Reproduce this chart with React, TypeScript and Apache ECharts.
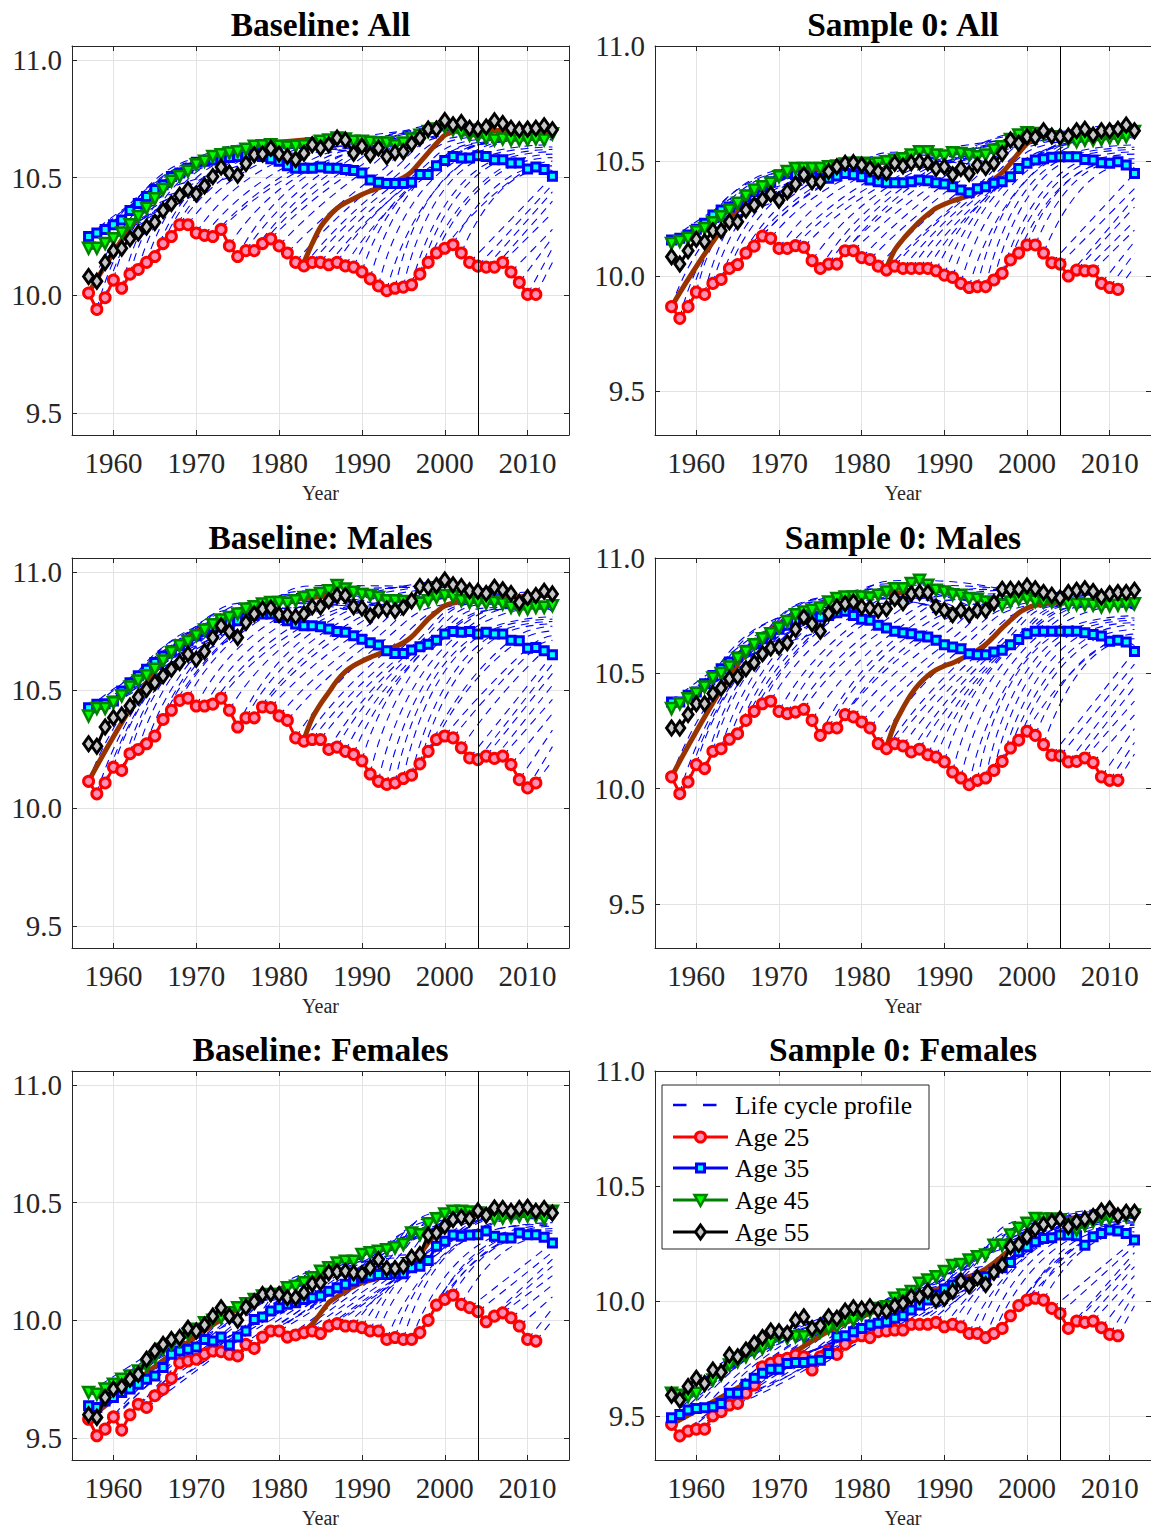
import React, { useEffect, useRef } from "react";
import * as echarts from "echarts";

// ---------- data ----------
const YEARS = [
  1957, 1958, 1959, 1960, 1961, 1962, 1963, 1964, 1965, 1966,
  1967, 1968, 1969, 1970, 1971, 1972, 1973, 1974, 1975, 1976,
  1977, 1978, 1979, 1980, 1981, 1982, 1983, 1984, 1985, 1986,
  1987, 1988, 1989, 1990, 1991, 1992, 1993, 1994, 1995, 1996,
  1997, 1998, 1999, 2000, 2001, 2002, 2003, 2004, 2005, 2006,
  2007, 2008, 2009, 2010, 2011, 2012, 2013,
];
const X_TICKS = [1960, 1970, 1980, 1990, 2000, 2010];
const Y_TICKS = [9.5, 10.0, 10.5, 11.0];
const POLICY_YEAR = 2004;
const EARLY_COHORT = 1957; // year in which the highlighted early cohort is aged 25
const LATE_COHORT_YEARS = [
  1983, 1984, 1985, 1986, 1987, 1988, 1989, 1990, 1991, 1992,
  1993, 1994, 1995, 1996, 1997, 1998, 1999, 2000, 2001, 2002,
  2003, 2004, 2005, 2006, 2007, 2008, 2009, 2010, 2011, 2012, 2013,
];
const END_AGES = [27, 28, 29, 30, 31, 32, 33, 34, 35, 36, 37, 38, 39, 40, 41, 42, 43, 44, 45, 46, 47, 48, 49, 50, 51, 52, 53, 54];

// Baseline: All
const BL_ALL_25 = [10.01, 9.94, 9.99, 10.065, 10.03, 10.09, 10.11, 10.14, 10.165, 10.22, 10.25, 10.30, 10.30, 10.265, 10.255, 10.25, 10.28, 10.21, 10.165, 10.19, 10.19, 10.22, 10.24, 10.21, 10.18, 10.14, 10.125, 10.14, 10.14, 10.13, 10.14, 10.125, 10.12, 10.10, 10.07, 10.04, 10.02, 10.03, 10.035, 10.045, 10.09, 10.14, 10.18, 10.20, 10.215, 10.18, 10.14, 10.124, 10.12, 10.12, 10.14, 10.099, 10.055, 10.004, 10.004];
const BL_ALL_35 = [10.25, 10.265, 10.28, 10.30, 10.32, 10.36, 10.39, 10.42, 10.45, 10.47, 10.505, 10.52, 10.54, 10.565, 10.57, 10.575, 10.58, 10.585, 10.59, 10.595, 10.6, 10.59, 10.58, 10.57, 10.55, 10.54, 10.54, 10.54, 10.545, 10.54, 10.54, 10.535, 10.53, 10.52, 10.49, 10.48, 10.475, 10.475, 10.475, 10.48, 10.513, 10.513, 10.55, 10.573, 10.59, 10.583, 10.583, 10.593, 10.59, 10.576, 10.576, 10.562, 10.562, 10.537, 10.545, 10.534, 10.506];
const BL_ALL_45 = [10.20, 10.20, 10.22, 10.24, 10.265, 10.30, 10.335, 10.37, 10.41, 10.45, 10.485, 10.505, 10.527, 10.555, 10.57, 10.59, 10.597, 10.605, 10.61, 10.62, 10.633, 10.635, 10.64, 10.633, 10.63, 10.633, 10.635, 10.644, 10.654, 10.66, 10.668, 10.664, 10.654, 10.654, 10.65, 10.647, 10.647, 10.635, 10.647, 10.664, 10.68, 10.696, 10.706, 10.715, 10.703, 10.69, 10.68, 10.675, 10.668, 10.66, 10.664, 10.66, 10.66, 10.66, 10.664, 10.66, 10.686];
const BL_ALL_55 = [10.08, 10.06, 10.14, 10.19, 10.20, 10.24, 10.265, 10.29, 10.31, 10.36, 10.39, 10.425, 10.45, 10.43, 10.465, 10.505, 10.545, 10.52, 10.51, 10.56, 10.597, 10.60, 10.625, 10.60, 10.59, 10.576, 10.604, 10.64, 10.626, 10.64, 10.668, 10.66, 10.604, 10.633, 10.597, 10.626, 10.59, 10.607, 10.61, 10.644, 10.668, 10.706, 10.706, 10.743, 10.725, 10.734, 10.71, 10.706, 10.715, 10.742, 10.73, 10.71, 10.703, 10.706, 10.71, 10.72, 10.703];
const BL_ALL_END = [10.14, 10.2, 10.245, 10.28, 10.35, 10.4, 10.44, 10.47, 10.505, 10.53, 10.55, 10.57, 10.585, 10.6, 10.61, 10.62, 10.63, 10.64, 10.65, 10.655, 10.66, 10.665, 10.67, 10.675, 10.68, 10.685, 10.69, 10.695];
const BL_ALL_C83 = [10.14, 10.22, 10.29, 10.335, 10.37, 10.393, 10.41, 10.428, 10.443, 10.456, 10.47, 10.485, 10.50, 10.525, 10.565, 10.605, 10.645, 10.68, 10.695, 10.70, 10.70, 10.70, 10.70, 10.70, 10.70, 10.70, 10.70, 10.70, 10.70, 10.70, 10.70];

// Sample 0: All
const S0_ALL_25 = [9.867, 9.816, 9.867, 9.93, 9.92, 9.968, 9.985, 10.033, 10.05, 10.10, 10.13, 10.174, 10.164, 10.12, 10.12, 10.132, 10.125, 10.067, 10.033, 10.052, 10.052, 10.11, 10.11, 10.08, 10.072, 10.043, 10.026, 10.043, 10.033, 10.033, 10.033, 10.033, 10.023, 10.004, 9.994, 9.968, 9.95, 9.954, 9.954, 9.983, 10.012, 10.07, 10.10, 10.135, 10.135, 10.10, 10.058, 10.052, 10.00, 10.026, 10.023, 10.023, 9.968, 9.95, 9.942];
const S0_ALL_35 = [10.157, 10.164, 10.178, 10.203, 10.23, 10.265, 10.287, 10.30, 10.316, 10.345, 10.367, 10.388, 10.41, 10.44, 10.446, 10.44, 10.435, 10.432, 10.425, 10.425, 10.435, 10.446, 10.44, 10.432, 10.417, 10.41, 10.406, 10.406, 10.406, 10.41, 10.417, 10.414, 10.406, 10.40, 10.388, 10.374, 10.362, 10.38, 10.388, 10.403, 10.41, 10.432, 10.468, 10.49, 10.504, 10.51, 10.516, 10.519, 10.519, 10.519, 10.507, 10.504, 10.493, 10.49, 10.497, 10.483, 10.446];
const S0_ALL_45 = [10.142, 10.15, 10.164, 10.193, 10.207, 10.232, 10.258, 10.287, 10.316, 10.348, 10.374, 10.388, 10.403, 10.432, 10.454, 10.468, 10.468, 10.468, 10.468, 10.475, 10.478, 10.487, 10.49, 10.49, 10.487, 10.49, 10.497, 10.504, 10.51, 10.526, 10.54, 10.54, 10.526, 10.522, 10.536, 10.533, 10.526, 10.519, 10.526, 10.548, 10.562, 10.594, 10.613, 10.623, 10.62, 10.613, 10.606, 10.594, 10.591, 10.584, 10.591, 10.591, 10.594, 10.599, 10.599, 10.606, 10.628];
const S0_ALL_55 = [10.084, 10.052, 10.11, 10.16, 10.149, 10.197, 10.197, 10.236, 10.236, 10.287, 10.309, 10.333, 10.357, 10.33, 10.367, 10.40, 10.44, 10.41, 10.41, 10.454, 10.475, 10.49, 10.493, 10.483, 10.468, 10.454, 10.449, 10.49, 10.478, 10.493, 10.497, 10.493, 10.468, 10.475, 10.44, 10.468, 10.446, 10.483, 10.472, 10.49, 10.533, 10.591, 10.577, 10.606, 10.603, 10.632, 10.609, 10.606, 10.609, 10.632, 10.638, 10.613, 10.632, 10.632, 10.638, 10.657, 10.632];
const S0_ALL_END = [10.04, 10.1, 10.15, 10.2, 10.24, 10.3, 10.34, 10.38, 10.42, 10.45, 10.47, 10.49, 10.51, 10.53, 10.54, 10.55, 10.56, 10.57, 10.58, 10.59, 10.595, 10.6, 10.605, 10.61, 10.615, 10.62, 10.62, 10.625];
const S0_ALL_C83 = [10.035, 10.113, 10.16, 10.2, 10.237, 10.268, 10.295, 10.312, 10.327, 10.338, 10.35, 10.368, 10.392, 10.42, 10.45, 10.49, 10.535, 10.575, 10.603, 10.615, 10.62, 10.62, 10.62, 10.62, 10.62, 10.62, 10.62, 10.62, 10.62, 10.62, 10.62];

// Baseline: Males
const BL_M_25 = [10.113, 10.06, 10.106, 10.173, 10.159, 10.23, 10.248, 10.272, 10.305, 10.375, 10.414, 10.456, 10.465, 10.432, 10.432, 10.44, 10.465, 10.414, 10.343, 10.382, 10.382, 10.428, 10.425, 10.39, 10.371, 10.297, 10.283, 10.29, 10.29, 10.248, 10.258, 10.24, 10.227, 10.20, 10.144, 10.113, 10.10, 10.106, 10.125, 10.139, 10.187, 10.24, 10.29, 10.305, 10.297, 10.255, 10.212, 10.205, 10.22, 10.21, 10.22, 10.184, 10.12, 10.085, 10.106];
const BL_M_35 = [10.425, 10.44, 10.442, 10.453, 10.496, 10.531, 10.56, 10.588, 10.616, 10.644, 10.666, 10.687, 10.708, 10.73, 10.748, 10.765, 10.779, 10.782, 10.793, 10.805, 10.815, 10.822, 10.822, 10.807, 10.793, 10.779, 10.772, 10.772, 10.768, 10.758, 10.748, 10.744, 10.73, 10.715, 10.70, 10.69, 10.666, 10.654, 10.654, 10.669, 10.683, 10.694, 10.711, 10.737, 10.748, 10.744, 10.748, 10.737, 10.744, 10.737, 10.737, 10.711, 10.708, 10.677, 10.68, 10.666, 10.649];
const BL_M_45 = [10.39, 10.422, 10.422, 10.446, 10.475, 10.513, 10.538, 10.56, 10.588, 10.623, 10.659, 10.687, 10.705, 10.73, 10.754, 10.776, 10.796, 10.807, 10.822, 10.843, 10.853, 10.864, 10.871, 10.871, 10.867, 10.878, 10.892, 10.90, 10.909, 10.92, 10.942, 10.928, 10.914, 10.904, 10.90, 10.892, 10.878, 10.878, 10.875, 10.871, 10.867, 10.878, 10.892, 10.90, 10.895, 10.878, 10.871, 10.871, 10.867, 10.871, 10.864, 10.85, 10.843, 10.843, 10.85, 10.85, 10.857];
const BL_M_55 = [10.272, 10.262, 10.343, 10.382, 10.394, 10.432, 10.47, 10.503, 10.531, 10.56, 10.588, 10.616, 10.652, 10.63, 10.663, 10.722, 10.772, 10.748, 10.722, 10.786, 10.822, 10.843, 10.847, 10.819, 10.819, 10.81, 10.822, 10.853, 10.853, 10.878, 10.90, 10.90, 10.853, 10.847, 10.814, 10.839, 10.843, 10.836, 10.85, 10.878, 10.938, 10.935, 10.942, 10.966, 10.946, 10.938, 10.92, 10.918, 10.909, 10.935, 10.924, 10.909, 10.871, 10.892, 10.90, 10.918, 10.907];
const BL_M_END = [10.2, 10.26, 10.33, 10.4, 10.46, 10.52, 10.57, 10.61, 10.65, 10.68, 10.71, 10.73, 10.75, 10.77, 10.78, 10.79, 10.8, 10.81, 10.82, 10.83, 10.835, 10.84, 10.845, 10.85, 10.855, 10.86, 10.865, 10.87];
const BL_M_C83 = [10.29, 10.38, 10.44, 10.49, 10.54, 10.578, 10.603, 10.622, 10.638, 10.652, 10.667, 10.682, 10.70, 10.725, 10.762, 10.80, 10.83, 10.857, 10.868, 10.875, 10.878, 10.88, 10.885, 10.89, 10.89, 10.895, 10.895, 10.9, 10.9, 10.9, 10.9];

// Sample 0: Males
const S0_M_25 = [10.051, 9.978, 10.029, 10.104, 10.087, 10.162, 10.173, 10.214, 10.238, 10.296, 10.335, 10.368, 10.379, 10.335, 10.325, 10.332, 10.344, 10.296, 10.231, 10.263, 10.263, 10.321, 10.311, 10.289, 10.263, 10.195, 10.173, 10.195, 10.185, 10.159, 10.171, 10.147, 10.137, 10.116, 10.072, 10.046, 10.017, 10.036, 10.046, 10.079, 10.118, 10.176, 10.21, 10.249, 10.231, 10.191, 10.145, 10.142, 10.116, 10.118, 10.133, 10.113, 10.051, 10.036, 10.036];
const S0_M_35 = [10.376, 10.376, 10.405, 10.419, 10.455, 10.491, 10.52, 10.549, 10.571, 10.60, 10.629, 10.65, 10.672, 10.691, 10.708, 10.723, 10.734, 10.74, 10.744, 10.751, 10.763, 10.769, 10.751, 10.734, 10.73, 10.708, 10.697, 10.682, 10.676, 10.672, 10.662, 10.658, 10.643, 10.624, 10.614, 10.607, 10.585, 10.581, 10.581, 10.592, 10.60, 10.624, 10.647, 10.672, 10.682, 10.682, 10.682, 10.682, 10.682, 10.682, 10.676, 10.668, 10.662, 10.639, 10.643, 10.636, 10.595];
const S0_M_45 = [10.347, 10.368, 10.39, 10.412, 10.441, 10.48, 10.499, 10.527, 10.564, 10.592, 10.624, 10.65, 10.672, 10.697, 10.725, 10.754, 10.766, 10.773, 10.783, 10.809, 10.824, 10.831, 10.831, 10.831, 10.827, 10.838, 10.853, 10.867, 10.867, 10.889, 10.903, 10.882, 10.86, 10.853, 10.841, 10.838, 10.824, 10.821, 10.809, 10.798, 10.795, 10.809, 10.821, 10.824, 10.812, 10.809, 10.809, 10.809, 10.798, 10.798, 10.798, 10.795, 10.788, 10.792, 10.795, 10.798, 10.802];
const S0_M_55 = [10.263, 10.263, 10.321, 10.368, 10.368, 10.412, 10.436, 10.477, 10.484, 10.52, 10.546, 10.585, 10.61, 10.614, 10.633, 10.691, 10.744, 10.715, 10.682, 10.759, 10.788, 10.802, 10.809, 10.788, 10.783, 10.773, 10.78, 10.824, 10.806, 10.845, 10.85, 10.85, 10.788, 10.773, 10.754, 10.773, 10.754, 10.773, 10.773, 10.806, 10.864, 10.864, 10.864, 10.879, 10.867, 10.85, 10.838, 10.827, 10.85, 10.86, 10.867, 10.855, 10.831, 10.845, 10.85, 10.85, 10.86];
const S0_M_END = [10.15, 10.2, 10.26, 10.32, 10.38, 10.44, 10.49, 10.54, 10.58, 10.62, 10.65, 10.67, 10.69, 10.71, 10.72, 10.73, 10.74, 10.75, 10.76, 10.77, 10.775, 10.78, 10.785, 10.79, 10.795, 10.8, 10.8, 10.805];
const S0_M_C83 = [10.18, 10.28, 10.35, 10.41, 10.455, 10.49, 10.515, 10.532, 10.545, 10.562, 10.58, 10.60, 10.625, 10.66, 10.697, 10.73, 10.762, 10.782, 10.795, 10.8, 10.805, 10.81, 10.81, 10.81, 10.81, 10.81, 10.81, 10.81, 10.81, 10.81, 10.81];

// Baseline: Females
const BL_F_25 = [9.58, 9.51, 9.538, 9.59, 9.534, 9.599, 9.644, 9.63, 9.68, 9.708, 9.754, 9.82, 9.828, 9.835, 9.856, 9.87, 9.867, 9.856, 9.849, 9.898, 9.881, 9.929, 9.955, 9.955, 9.929, 9.938, 9.948, 9.955, 9.944, 9.976, 9.986, 9.976, 9.976, 9.969, 9.955, 9.955, 9.919, 9.927, 9.919, 9.919, 9.948, 10.00, 10.065, 10.089, 10.107, 10.068, 10.054, 10.037, 9.994, 10.018, 10.032, 10.011, 9.976, 9.919, 9.912];
const BL_F_35 = [9.637, 9.63, 9.658, 9.672, 9.694, 9.708, 9.729, 9.75, 9.764, 9.80, 9.856, 9.87, 9.877, 9.887, 9.919, 9.912, 9.929, 9.895, 9.929, 9.955, 10.004, 10.014, 10.04, 10.054, 10.068, 10.075, 10.089, 10.096, 10.103, 10.124, 10.138, 10.153, 10.167, 10.181, 10.188, 10.195, 10.195, 10.198, 10.198, 10.223, 10.23, 10.254, 10.315, 10.336, 10.362, 10.357, 10.362, 10.364, 10.379, 10.357, 10.35, 10.35, 10.371, 10.364, 10.364, 10.353, 10.329];
const BL_F_45 = [9.694, 9.686, 9.708, 9.729, 9.75, 9.764, 9.785, 9.806, 9.842, 9.877, 9.898, 9.912, 9.941, 9.962, 9.99, 10.00, 10.011, 10.032, 10.054, 10.071, 10.089, 10.103, 10.11, 10.11, 10.138, 10.145, 10.16, 10.181, 10.209, 10.223, 10.244, 10.251, 10.251, 10.28, 10.287, 10.294, 10.30, 10.308, 10.322, 10.371, 10.364, 10.41, 10.432, 10.452, 10.463, 10.463, 10.46, 10.456, 10.449, 10.432, 10.435, 10.438, 10.442, 10.442, 10.442, 10.432, 10.463];
const BL_F_55 = [9.599, 9.588, 9.672, 9.708, 9.718, 9.75, 9.771, 9.835, 9.87, 9.898, 9.919, 9.927, 9.966, 9.955, 9.98, 10.018, 10.054, 10.018, 10.00, 10.056, 10.079, 10.11, 10.113, 10.11, 10.096, 10.096, 10.117, 10.155, 10.16, 10.202, 10.206, 10.209, 10.202, 10.198, 10.223, 10.258, 10.22, 10.22, 10.23, 10.268, 10.28, 10.362, 10.371, 10.40, 10.428, 10.438, 10.432, 10.466, 10.446, 10.477, 10.475, 10.463, 10.475, 10.48, 10.463, 10.475, 10.456];
const BL_F_END = [10.0, 10.05, 10.1, 10.15, 10.19, 10.23, 10.26, 10.29, 10.32, 10.34, 10.36, 10.37, 10.38, 10.39, 10.4, 10.405, 10.41, 10.415, 10.42, 10.425, 10.427, 10.43, 10.432, 10.435, 10.437, 10.44, 10.44, 10.44];
const BL_F_C83 = [9.955, 9.985, 10.03, 10.075, 10.10, 10.124, 10.143, 10.16, 10.17, 10.181, 10.19, 10.202, 10.22, 10.244, 10.28, 10.33, 10.37, 10.40, 10.425, 10.44, 10.45, 10.45, 10.452, 10.455, 10.455, 10.457, 10.458, 10.46, 10.46, 10.46, 10.46];

// Sample 0: Females
const S0_F_25 = [9.464, 9.414, 9.435, 9.443, 9.443, 9.501, 9.519, 9.548, 9.555, 9.599, 9.635, 9.714, 9.729, 9.743, 9.751, 9.765, 9.758, 9.70, 9.758, 9.783, 9.768, 9.812, 9.845, 9.849, 9.841, 9.867, 9.87, 9.874, 9.874, 9.899, 9.899, 9.899, 9.907, 9.888, 9.899, 9.888, 9.859, 9.859, 9.841, 9.859, 9.881, 9.936, 9.98, 10.004, 10.012, 10.004, 9.968, 9.946, 9.881, 9.913, 9.907, 9.913, 9.884, 9.855, 9.849];
const S0_F_35 = [9.493, 9.507, 9.526, 9.533, 9.536, 9.541, 9.555, 9.599, 9.599, 9.638, 9.664, 9.686, 9.704, 9.704, 9.729, 9.733, 9.733, 9.739, 9.743, 9.772, 9.845, 9.849, 9.867, 9.881, 9.896, 9.903, 9.91, 9.925, 9.936, 9.961, 9.983, 10.004, 10.026, 10.052, 10.07, 10.084, 10.081, 10.099, 10.106, 10.125, 10.145, 10.168, 10.214, 10.236, 10.258, 10.272, 10.275, 10.287, 10.287, 10.284, 10.243, 10.28, 10.294, 10.309, 10.304, 10.294, 10.265];
const S0_F_45 = [9.599, 9.591, 9.584, 9.599, 9.635, 9.657, 9.678, 9.722, 9.736, 9.758, 9.78, 9.794, 9.816, 9.845, 9.838, 9.845, 9.845, 9.859, 9.867, 9.881, 9.888, 9.913, 9.917, 9.939, 9.954, 9.968, 9.975, 10.012, 10.026, 10.041, 10.077, 10.091, 10.106, 10.128, 10.154, 10.159, 10.178, 10.193, 10.20, 10.243, 10.243, 10.287, 10.316, 10.338, 10.359, 10.357, 10.357, 10.352, 10.333, 10.309, 10.33, 10.345, 10.357, 10.359, 10.367, 10.367, 10.374];
const S0_F_55 = [9.591, 9.57, 9.628, 9.664, 9.642, 9.70, 9.69, 9.765, 9.758, 9.787, 9.816, 9.841, 9.87, 9.867, 9.859, 9.917, 9.932, 9.881, 9.893, 9.932, 9.925, 9.957, 9.971, 9.965, 9.975, 9.961, 9.957, 9.98, 9.99, 10.019, 10.019, 10.043, 10.004, 10.012, 10.043, 10.087, 10.067, 10.101, 10.072, 10.125, 10.157, 10.236, 10.246, 10.28, 10.313, 10.333, 10.345, 10.357, 10.323, 10.345, 10.357, 10.367, 10.391, 10.40, 10.371, 10.386, 10.386];
const S0_F_END = [9.98, 10.03, 10.07, 10.11, 10.15, 10.18, 10.21, 10.24, 10.26, 10.28, 10.3, 10.31, 10.32, 10.33, 10.335, 10.34, 10.345, 10.35, 10.35, 10.355, 10.357, 10.36, 10.362, 10.365, 10.367, 10.37, 10.37, 10.37];
const S0_F_C83 = [9.88, 9.94, 9.98, 10.005, 10.022, 10.036, 10.05, 10.063, 10.078, 10.092, 10.106, 10.12, 10.14, 10.165, 10.195, 10.225, 10.26, 10.29, 10.315, 10.33, 10.34, 10.35, 10.355, 10.36, 10.36, 10.365, 10.37, 10.37, 10.375, 10.38, 10.38];

const LEGEND_LABELS = ["Life cycle profile", "Age 25", "Age 35", "Age 45", "Age 55"];

// ---------- layout / style ----------
const FONT = '"Liberation Serif", "Times New Roman", Times, serif';
const AXIS_COLOR = "#262626";
const GRID_COLOR = "#e3e3e3";
const PROFILE_COLOR = "#0000ff";
const BROWN = "#993300";

const LEFT_RANGE = { min: 9.407, max: 11.059 };
const RIGHT_RANGE = { min: 9.309, max: 11.0 };

const PANELS = [
  { title: "Baseline: All", series: [BL_ALL_25, BL_ALL_35, BL_ALL_45, BL_ALL_55], end: BL_ALL_END, late: BL_ALL_C83, left: 72, top: 46, width: 497, height: 389, range: LEFT_RANGE, titleY: 24, labelY: 493 },
  { title: "Sample 0: All", series: [S0_ALL_25, S0_ALL_35, S0_ALL_45, S0_ALL_55], end: S0_ALL_END, late: S0_ALL_C83, left: 655, top: 46, width: 496, height: 389, range: RIGHT_RANGE, titleY: 24, labelY: 493 },
  { title: "Baseline: Males", series: [BL_M_25, BL_M_35, BL_M_45, BL_M_55], end: BL_M_END, late: BL_M_C83, left: 72, top: 558, width: 497, height: 390, range: LEFT_RANGE, titleY: 537, labelY: 1006 },
  { title: "Sample 0: Males", series: [S0_M_25, S0_M_35, S0_M_45, S0_M_55], end: S0_M_END, late: S0_M_C83, left: 655, top: 558, width: 496, height: 390, range: RIGHT_RANGE, titleY: 537, labelY: 1006 },
  { title: "Baseline: Females", series: [BL_F_25, BL_F_35, BL_F_45, BL_F_55], end: BL_F_END, late: BL_F_C83, left: 72, top: 1071, width: 497, height: 389, range: LEFT_RANGE, titleY: 1049, labelY: 1518 },
  { title: "Sample 0: Females", series: [S0_F_25, S0_F_35, S0_F_45, S0_F_55], end: S0_F_END, late: S0_F_C83, left: 655, top: 1071, width: 496, height: 389, range: RIGHT_RANGE, titleY: 1049, labelY: 1518 },
];

const AGES = [25, 35, 45, 55];
const AGE_STYLES = [
  { line: "#ff0000", fill: "#ff8fb4", symbol: "circle", size: 10 as any, rotate: 0, bw: 3 },
  { line: "#0000ff", fill: "#00ffff", symbol: "rect", size: 8 as any, rotate: 0, bw: 3 },
  { line: "#008000", fill: "#00ff00", symbol: "triangle", size: 11 as any, rotate: 180, bw: 2.5 },
  { line: "#000000", fill: "#c8c8c8", symbol: "diamond", size: [10, 14] as any, rotate: 0, bw: 3 },
];

function cohortPoints(series: number[][], end: number[], t25: number): number[][] | null {
  const pts: number[][] = [];
  AGES.forEach((age, k) => {
    const yr = t25 + (age - AGES[0]);
    const idx = YEARS.indexOf(yr);
    if (idx >= 0 && idx < series[k].length) pts.push([yr, series[k][idx]]);
  });
  const lastYear = YEARS[YEARS.length - 1];
  const ageAtEnd = lastYear - t25 + AGES[0];
  const ei = END_AGES.indexOf(ageAtEnd);
  if (ei >= 0 && !AGES.includes(ageAtEnd) && t25 <= lastYear) {
    pts.push([lastYear, end[ei]]);
  }
  pts.sort((a, b) => a[0] - b[0]);
  return pts.length >= 2 ? pts : null;
}

function buildOption() {
  const grid: any[] = [];
  const xAxis: any[] = [];
  const yAxis: any[] = [];
  const series: any[] = [];
  const graphic: any[] = [];

  PANELS.forEach((p, i) => {
    grid.push({ left: p.left, top: p.top, width: p.width, height: p.height, containLabel: false, outerBoundsMode: "none", show: false });
    const axisLine = { show: true, onZero: false, lineStyle: { color: AXIS_COLOR, width: 1 } };
    xAxis.push({
      gridIndex: i, type: "value", min: 1955, max: 2015, position: "bottom",
      axisLine,
      axisTick: { show: true, inside: true, length: 5, customValues: X_TICKS, lineStyle: { color: AXIS_COLOR } },
      axisLabel: { show: true, customValues: X_TICKS, fontSize: 29, fontFamily: FONT, color: AXIS_COLOR, margin: 13, formatter: (v: number) => String(Math.round(v)) },
      splitLine: { show: true, lineStyle: { color: GRID_COLOR, width: 1 } },
    });
    xAxis.push({
      gridIndex: i, type: "value", min: 1955, max: 2015, position: "top",
      axisLine,
      axisTick: { show: true, inside: true, length: 5, customValues: X_TICKS, lineStyle: { color: AXIS_COLOR } },
      axisLabel: { show: false },
      splitLine: { show: false },
    });
    yAxis.push({
      gridIndex: i, type: "value", min: p.range.min, max: p.range.max, position: "left",
      axisLine,
      axisTick: { show: true, inside: true, length: 5, customValues: Y_TICKS, lineStyle: { color: AXIS_COLOR } },
      axisLabel: { show: true, customValues: Y_TICKS, fontSize: 29, fontFamily: FONT, color: AXIS_COLOR, margin: 10, formatter: (v: number) => v.toFixed(1) },
      splitLine: { show: true, lineStyle: { color: GRID_COLOR, width: 1 } },
    });
    yAxis.push({
      gridIndex: i, type: "value", min: p.range.min, max: p.range.max, position: "right",
      axisLine,
      axisTick: { show: true, inside: true, length: 5, customValues: Y_TICKS, lineStyle: { color: AXIS_COLOR } },
      axisLabel: { show: false },
      splitLine: { show: false },
    });
    const xi = 2 * i;
    const yi = 2 * i;

    // life cycle profiles (one per cohort)
    for (let t25 = YEARS[0] - 20; t25 <= YEARS[YEARS.length - 1]; t25++) {
      const pts = cohortPoints(p.series, p.end, t25);
      if (!pts) continue;
      series.push({
        type: "line", name: LEGEND_LABELS[0], xAxisIndex: xi, yAxisIndex: yi, data: pts,
        smooth: 0.6, symbol: "none", silent: true, z: 1,
        lineStyle: { color: PROFILE_COLOR, width: 1.1, type: [8, 6] },
      });
    }

    // highlighted cohorts
    const early = cohortPoints(p.series, p.end, EARLY_COHORT);
    series.push({
      type: "line", name: "Cohort " + EARLY_COHORT, xAxisIndex: xi, yAxisIndex: yi, data: early || [],
      smooth: 0.3, symbol: "none", silent: true, z: 2,
      lineStyle: { color: BROWN, width: 5 },
      markLine: {
        silent: true, symbol: ["none", "none"], label: { show: false },
        lineStyle: { color: "#000000", width: 1, type: "solid" },
        data: [{ xAxis: POLICY_YEAR }],
      },
    });
    series.push({
      type: "line", name: "Cohort " + LATE_COHORT_YEARS[0], xAxisIndex: xi, yAxisIndex: yi,
      data: p.late.map((v, j) => [LATE_COHORT_YEARS[j], v]),
      smooth: 0.3, symbol: "none", silent: true, z: 2,
      lineStyle: { color: BROWN, width: 5 },
    });

    // age series
    p.series.forEach((vals, k) => {
      const st = AGE_STYLES[k];
      series.push({
        type: "line", name: LEGEND_LABELS[k + 1], xAxisIndex: xi, yAxisIndex: yi,
        data: vals.map((v, j) => [YEARS[j], v]),
        symbol: st.symbol, symbolSize: st.size, symbolRotate: st.rotate, showSymbol: true, showAllSymbol: true,
        silent: true, z: 3 + k,
        lineStyle: { color: st.line, width: 3 },
        itemStyle: { color: st.fill, borderColor: st.line, borderWidth: st.bw },
      });
    });

    const cx = p.left + p.width / 2;
    graphic.push({
      type: "text", x: cx, y: p.titleY, z: 10,
      style: { text: p.title, fontSize: 33.5, fontWeight: "bold", fontFamily: FONT, fill: "#000", align: "center", verticalAlign: "middle" },
    });
    graphic.push({
      type: "text", x: cx, y: p.labelY, z: 10,
      style: { text: "Year", fontSize: 20, fontFamily: FONT, fill: AXIS_COLOR, align: "center", verticalAlign: "middle" },
    });
  });

  // legend (inside the last panel)
  const LX = 662, LY = 1085, LW = 267, LH = 164;
  const rows = [1105, 1137, 1168, 1200, 1232];
  const lineX1 = 673, lineX2 = 728, mx = 700.5, textX = 735;
  graphic.push({ type: "rect", z: 20, shape: { x: LX, y: LY, width: LW, height: LH }, style: { fill: "#ffffff", stroke: AXIS_COLOR, lineWidth: 1 } });
  graphic.push({ type: "line", z: 21, shape: { x1: lineX1, y1: rows[0], x2: 717, y2: rows[0] }, style: { stroke: PROFILE_COLOR, lineWidth: 2.5, lineDash: [13.5, 16.5] } });
  AGE_STYLES.forEach((st, k) => {
    const cy = rows[k + 1];
    graphic.push({ type: "line", z: 21, shape: { x1: lineX1, y1: cy, x2: lineX2, y2: cy }, style: { stroke: st.line, lineWidth: 3 } });
    const ms = { fill: st.fill, stroke: st.line, lineWidth: st.bw };
    if (k === 0) graphic.push({ type: "circle", z: 22, shape: { cx: mx, cy, r: 5 }, style: ms });
    if (k === 1) graphic.push({ type: "rect", z: 22, shape: { x: mx - 4, y: cy - 4, width: 8, height: 8 }, style: ms });
    if (k === 2) graphic.push({ type: "polygon", z: 22, shape: { points: [[mx - 6, cy - 5], [mx + 6, cy - 5], [mx, cy + 6]] }, style: ms });
    if (k === 3) graphic.push({ type: "polygon", z: 22, shape: { points: [[mx, cy - 7], [mx + 5, cy], [mx, cy + 7], [mx - 5, cy]] }, style: ms });
  });
  LEGEND_LABELS.forEach((label, k) => {
    graphic.push({
      type: "text", z: 22, x: textX, y: rows[k],
      style: { text: label, fontSize: 25.5, fontFamily: FONT, fill: "#000", align: "left", verticalAlign: "middle" },
    });
  });

  return {
    animation: false,
    backgroundColor: "#ffffff",
    grid, xAxis, yAxis, series, graphic,
  };
}

export default function App() {
  const ref = useRef<HTMLDivElement>(null);
  useEffect(() => {
    if (!ref.current) return;
    const chart = echarts.init(ref.current, null, { renderer: "svg" });
    chart.setOption(buildOption() as any);
    return () => chart.dispose();
  }, []);
  return (
    <div
      ref={ref}
      style={{ position: "absolute", left: 0, top: 0, width: 1151, height: 1531, background: "#ffffff" }}
    />
  );
}
